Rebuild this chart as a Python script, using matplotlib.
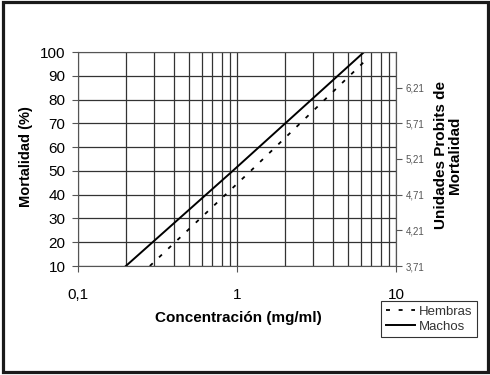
import matplotlib
matplotlib.use("Agg")
import matplotlib.pyplot as plt
from matplotlib.patches import Rectangle
from matplotlib.ticker import FixedLocator, NullFormatter

# data
machos_conc = [0.2, 0.94, 6.3]
machos_mort = [10, 50, 100]
hembras_conc = [0.283, 1.22, 6.8]
hembras_mort = [10, 50, 98]

y_ticks = [10, 20, 30, 40, 50, 60, 70, 80, 90, 100]
x_ticks = [0.1, 1, 10]
x_ticklabels = ["0,1", "1", "10"]
probit_ticks = [3.71, 4.21, 4.71, 5.21, 5.71, 6.21]
probit_labels = ["3,71", "4,21", "4,71", "5,21", "5,71", "6,21"]

plt.rcParams['font.family'] = ['Liberation Sans', 'DejaVu Sans']

fig = plt.figure(figsize=(4.9, 3.75), dpi=100)
ax = fig.add_axes([78/490, 1-266/375, (396-78)/490, (266-52)/375])

grid_col = '#333333'
ax.plot(hembras_conc, hembras_mort, color='black', lw=1.3,
        linestyle=(0, (2.2, 4.8)), label='Hembras')
ax.plot(machos_conc, machos_mort, color='black', lw=1.4, label='Machos')

ax.set_xscale('log')
ax.set_xlim(0.1, 10)
ax.set_ylim(10, 100)
ax.set_yticks(y_ticks)
ax.set_xticks(x_ticks)
ax.set_xticklabels(x_ticklabels)
minors = [m * d for d in (0.1, 1) for m in range(2, 10)]
ax.xaxis.set_minor_locator(FixedLocator(minors))
ax.xaxis.set_minor_formatter(NullFormatter())
ax.grid(True, which='both', axis='x', color=grid_col, lw=0.9)
ax.grid(True, which='major', axis='y', color=grid_col, lw=0.9)
ax.set_axisbelow(True)

ax.tick_params(axis='y', which='major', labelsize=11, length=4, width=0.8,
               color='#555555', pad=5)
ax.tick_params(axis='x', which='major', labelsize=11, length=4, width=0.8,
               color='#555555', pad=12)
ax.tick_params(axis='x', which='minor', length=0)
for s in ax.spines.values():
    s.set_color('#555555')
    s.set_linewidth(0.8)

ax2 = ax.twinx()
ax2.set_ylim(3.71, 6.71)
ax2.set_yticks(probit_ticks)
ax2.set_yticklabels(probit_labels)
ax2.tick_params(axis='y', labelsize=7, length=4, width=0.8,
                color='#555555', labelcolor='#555555', pad=3)
for s in ax2.spines.values():
    s.set_visible(False)
ax2.spines['right'].set_visible(True)
ax2.spines['right'].set_color('#555555')
ax2.spines['right'].set_linewidth(0.8)

fig.text(26/490, 1-157/375, 'Mortalidad (%)', rotation=90, ha='center',
         va='center', fontsize=10.5, fontweight='bold')
fig.text(238/490, 1-318/375, 'Concentración (mg/ml)', ha='center',
         va='center', fontsize=11, fontweight='bold')
fig.text(448/490, 1-155/375, 'Unidades Probits de\nMortalidad', rotation=90,
         ha='center', va='center', fontsize=11, fontweight='bold',
         multialignment='center', linespacing=1.0)

leg = fig.legend(loc='upper right', bbox_to_anchor=(477/490, 1-301/375),
                 fontsize=9.5, frameon=True, fancybox=False, edgecolor='black',
                 handlelength=2.2, handletextpad=0.3, borderpad=0.35,
                 labelspacing=0.2, borderaxespad=0)
leg.get_frame().set_linewidth(0.8)
for t in leg.get_texts():
    t.set_color('#333333')

fig.patches.append(Rectangle((2.5/490, 1-371.5/375), 485.5/490, 370/375,
                             transform=fig.transFigure, fill=False,
                             edgecolor='#1a1a1a', lw=2.3))

fig.savefig('out.png', dpi=100)
